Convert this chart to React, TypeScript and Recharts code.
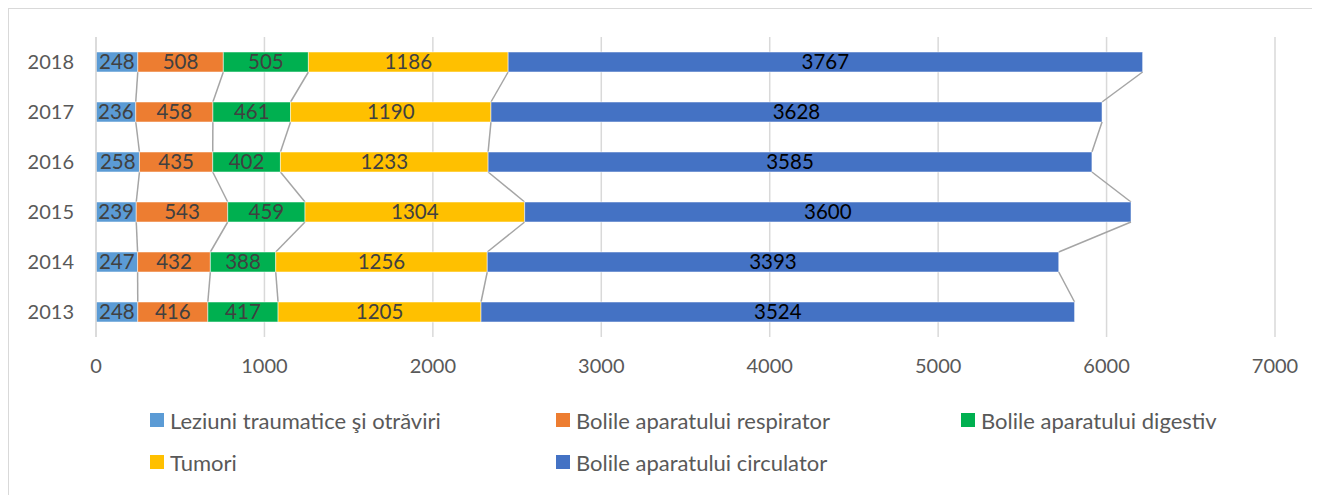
import { BarChart, Bar, XAxis, YAxis, CartesianGrid, LabelList } from 'recharts';

const YEARS = ['2018', '2017', '2016', '2015', '2014', '2013'];

const LEZIUNI = [248, 236, 258, 239, 247, 248];
const RESPIRATOR = [508, 458, 435, 543, 432, 416];
const DIGESTIV = [505, 461, 402, 459, 388, 417];
const TUMORI = [1186, 1190, 1233, 1304, 1256, 1205];
const CIRCULATOR = [3767, 3628, 3585, 3600, 3393, 3524];

const X_TICKS = [0, 1000, 2000, 3000, 4000, 5000, 6000, 7000];

const SERIES = [
  { key: 'leziuni', name: 'Leziuni traumatice şi otrăviri', values: LEZIUNI, color: '#5B9BD5', text: '#404040' },
  { key: 'respirator', name: 'Bolile aparatului respirator', values: RESPIRATOR, color: '#ED7D31', text: '#404040' },
  { key: 'digestiv', name: 'Bolile aparatului digestiv', values: DIGESTIV, color: '#00B050', text: '#404040' },
  { key: 'tumori', name: 'Tumori', values: TUMORI, color: '#FFC000', text: '#404040' },
  { key: 'circulator', name: 'Bolile aparatului circulator', values: CIRCULATOR, color: '#4472C4', text: '#000000' },
];

const data = YEARS.map((year, i) => {
  const row: Record<string, string | number> = { year };
  SERIES.forEach((s) => {
    row[s.key] = s.values[i];
  });
  return row;
});

const PLOT_H = 300;
const BAND = PLOT_H / YEARS.length;

// cumulative total up to and including series k
const cumAt = (k: number, i: number) => {
  let t = 0;
  for (let j = 0; j <= k; j++) t += SERIES[j].values[i];
  return t;
};

// bar with an Excel-style series line down to the next bar
const makeShape = (k: number) => (props: any) => {
  const { x, y, width, height, fill, index } = props;
  const v = SERIES[k].values[index];
  const perUnit = v ? width / v : 0;
  const right = x + width;
  const hasNext = index < YEARS.length - 1;
  const nextRight = hasNext ? right + (cumAt(k, index + 1) - cumAt(k, index)) * perUnit : 0;
  return (
    <g>
      <rect x={x} y={y} width={width} height={height} fill={fill} stroke="#ffffff" strokeOpacity={0.5} strokeWidth={1} />
      {hasNext && (
        <line
          x1={right}
          y1={y + height}
          x2={nextRight}
          y2={y + BAND}
          stroke="#a5a5a5"
          strokeWidth={1.5}
        />
      )}
    </g>
  );
};

const LEGEND_POS = [
  { left: 141, top: 411 },
  { left: 547, top: 411 },
  { left: 952, top: 411 },
  { left: 141, top: 453 },
  { left: 547, top: 453 },
];

export default function App() {
  return (
    <div
      style={{
        width: 1310,
        height: 500,
        border: '1px solid #d9d9d9',
        boxSizing: 'border-box',
        position: 'relative',
        fontFamily: 'Lato, sans-serif',
        background: '#fff',
      }}
    >
      <BarChart
        width={1300}
        height={370}
        data={data}
        layout="vertical"
        barSize={20}
        margin={{ top: 28, right: 34, bottom: 0, left: 0 }}
      >
        <CartesianGrid horizontal={false} vertical stroke="#d9d9d9" strokeWidth={1.5} />
        <XAxis
          type="number"
          domain={[0, 7000]}
          ticks={X_TICKS}
          axisLine={false}
          tickLine={false}
          height={42}
          tickMargin={16}
          tick={{ fill: '#595959', fontSize: 20 }}
        />
        <YAxis
          type="category"
          dataKey="year"
          width={87}
          tickLine={false}
          axisLine={{ stroke: '#d9d9d9', strokeWidth: 1.5 }}
          tickMargin={16}
          tick={{ fill: '#595959', fontSize: 20 }}
        />
        {SERIES.map((s, k) => (
          <Bar
            key={s.key}
            dataKey={s.key}
            name={s.name}
            stackId="a"
            fill={s.color}
            isAnimationActive={false}
            shape={makeShape(k)}
          >
            <LabelList dataKey={s.key} position="center" fill={s.text} fontSize={20.5} />
          </Bar>
        ))}
      </BarChart>
      {SERIES.map((s, k) => (
        <div
          key={s.key}
          style={{
            position: 'absolute',
            left: LEGEND_POS[k].left,
            top: LEGEND_POS[k].top - 14,
            height: 28,
            display: 'flex',
            alignItems: 'center',
            whiteSpace: 'nowrap',
          }}
        >
          <span style={{ display: 'inline-block', width: 14, height: 14, background: s.color, marginRight: 6 }} />
          <span style={{ fontSize: 22, color: '#595959' }}>{s.name}</span>
        </div>
      ))}
    </div>
  );
}
